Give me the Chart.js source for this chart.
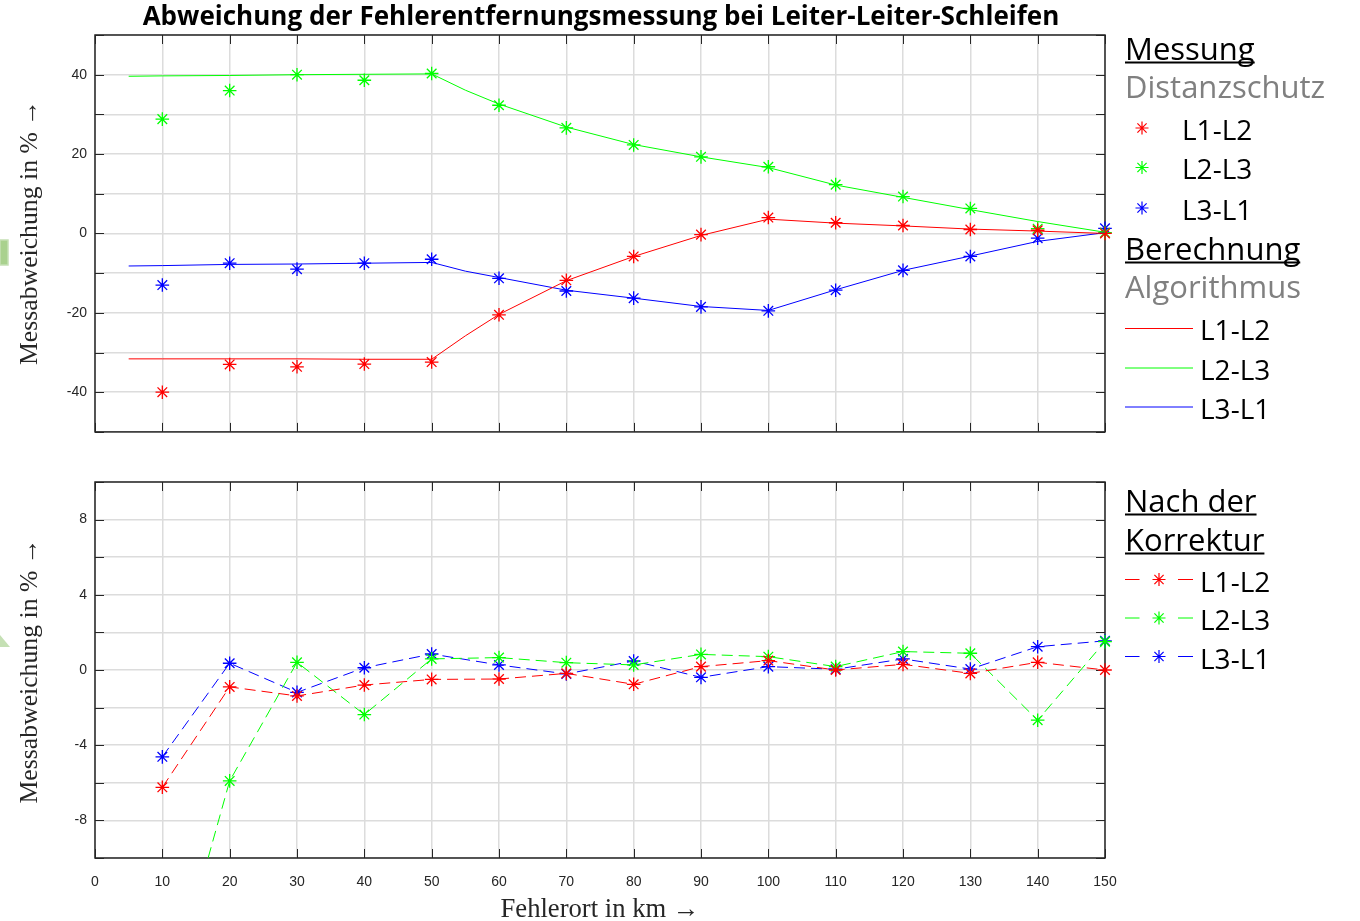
<!DOCTYPE html>
<html>
<head>
<meta charset="utf-8">
<script src="https://cdn.jsdelivr.net/npm/chart.js@4.4.0/dist/chart.umd.min.js"></script>
<style>
  body { margin: 0; background: #fff; width: 1360px; height: 921px; overflow: hidden; position: relative; }
  canvas { position: absolute; left: 0; }
  #topChart { top: 0; }
  #botChart { top: 460px; }
  #ann { position: absolute; left: 0; top: 0; }
</style>
</head>
<body>
<canvas id="topChart" width="1125" height="440" style="width:1125px;height:440px"></canvas>
<canvas id="botChart" width="1125" height="440" style="width:1125px;height:440px"></canvas>

<svg id="ann" width="1360" height="921">
  <!-- stray marks at the left border of the original picture -->
  <rect x="0" y="240" width="8" height="25" fill="#a9d18e" stroke="#c5e0b4" stroke-width="1.5"/>
  <polygon points="0,635 10,647 0,647" fill="#c5e0b4"/>

  <text id="title" x="601" y="25" text-anchor="middle" font-family="Open Sans" font-weight="bold" font-size="24">Abweichung der Fehlerentfernungsmessung bei Leiter-Leiter-Schleifen</text>

  <text id="yTitleTop" transform="translate(37,232.5) rotate(-90)" text-anchor="middle" font-family="Liberation Serif" font-size="22" fill="#262626">Messabweichung in % →</text>
  <text id="yTitleBot" transform="translate(37,671) rotate(-90)" text-anchor="middle" font-family="Liberation Serif" font-size="22" fill="#262626">Messabweichung in % →</text>
  <text id="xTitle" x="600" y="917" text-anchor="middle" font-family="Liberation Serif" font-size="22" fill="#262626">Fehlerort in km →</text>

  <g id="legend"></g>
</svg>

<script>
// ---------- data ----------
const kmMeas = [10, 20, 30, 40, 50, 60, 70, 80, 90, 100, 110, 120, 130, 140, 150];

// Messung Distanzschutz (markers only)
const measL1L2 = [-40, -33, -33.6, -32.9, -32.4, -20.5, -11.8, -5.8, -0.3, 4, 2.7, 2, 1, 0.8, 0];
const measL2L3 = [28.8, 36, 40, 38.6, 40.3, 32.3, 26.6, 22.3, 19.3, 16.8, 12.3, 9.3, 6.3, 1.2, 0.2];
const measL3L1 = [-13, -7.5, -9, -7.5, -6.5, -11.3, -14.5, -16.3, -18.5, -19.5, -14.3, -9.3, -5.8, -1.2, 1.3];

// Berechnung Algorithmus (lines)
const kmCalc = [5, 10, 20, 30, 40, 50, 55, 60, 70, 80, 90, 100, 110, 120, 130, 140, 150];
const calcL1L2 = [-31.6, -31.6, -31.6, -31.6, -31.7, -31.7, -25.8, -20.4, -11.9, -5.8, -0.5, 3.6, 2.6, 1.9, 1.1, 0.6, 0];
const calcL2L3 = [39.6, 39.7, 39.8, 40, 40.1, 40.2, 36.1, 32.6, 26.8, 22.4, 19.3, 16.6, 12.2, 9.1, 6.0, 3.0, 0.3];
const calcL3L1 = [-8.2, -8.1, -7.8, -7.7, -7.5, -7.3, -9.5, -11.1, -14.3, -16.3, -18.4, -19.4, -14.2, -9.3, -5.7, -2.0, 0.2];

// Nach der Korrektur
const corrL1L2 = [-6.24, -0.9, -1.38, -0.8, -0.5, -0.48, -0.18, -0.76, 0.18, 0.5, 0, 0.3, -0.18, 0.41, 0];
const corrL2L3 = [-18.7, -5.9, 0.41, -2.37, 0.59, 0.66, 0.39, 0.27, 0.83, 0.71, 0.18, 0.98, 0.89, -2.67, 1.51];
const corrL3L1 = [-4.62, 0.36, -1.19, 0.12, 0.85, 0.27, -0.21, 0.48, -0.39, 0.18, 0.04, 0.59, 0.05, 1.24, 1.55];

const seriesNames = ["L1-L2", "L2-L3", "L3-L1"];
const seriesColors = ["#ff0000", "#00ff00", "#0000ff"];

// ---------- helpers ----------
const pts = (xs, ys) => xs.map((x, i) => ({ x: x, y: ys[i] }));
const tickFont = { family: "Liberation Sans, Arial, sans-serif", size: 14 };
const gridCol = "#dcdcdc";
const axisCol = "#262626";
const clipBox = { left: 0, top: 0, right: 10, bottom: 0 };

// box + inward tick marks, drawn below the data like in MATLAB
const framePlugin = {
  id: "frame",
  beforeDatasetsDraw(chart) {
    const { ctx, chartArea: a, scales } = chart;
    ctx.save();
    ctx.strokeStyle = axisCol;
    ctx.lineWidth = 1;
    ctx.beginPath();
    scales.x.ticks.forEach(t => {
      const px = Math.round(scales.x.getPixelForValue(t.value)) + 0.5;
      ctx.moveTo(px, a.top); ctx.lineTo(px, a.top + 9);
      ctx.moveTo(px, a.bottom); ctx.lineTo(px, a.bottom - 9);
    });
    scales.y.ticks.forEach(t => {
      const py = Math.round(scales.y.getPixelForValue(t.value)) + 0.5;
      ctx.moveTo(a.left, py); ctx.lineTo(a.left + 9, py);
      ctx.moveTo(a.right, py); ctx.lineTo(a.right - 9, py);
    });
    ctx.stroke();
    ctx.lineWidth = 1.5;
    ctx.strokeRect(a.left, a.top, a.right - a.left, a.bottom - a.top);
    ctx.restore();
  }
};

function baseScales(yMin, yMax, yStep, labelEvery, showX, xHeight) {
  return {
    x: {
      type: "linear", min: 0, max: 150,
      ticks: { stepSize: 10, display: showX, font: tickFont, color: axisCol, padding: 16, maxRotation: 0 },
      grid: { color: gridCol, lineWidth: 1.5, drawTicks: false },
      border: { display: false },
      afterFit: s => { s.height = xHeight; s.paddingLeft = 0; s.paddingRight = 0; }
    },
    y: {
      min: yMin, max: yMax,
      ticks: {
        stepSize: yStep, font: tickFont, color: axisCol, padding: 8,
        callback: v => (v % labelEvery === 0 ? String(v) : "")
      },
      grid: { color: gridCol, lineWidth: 1.5, drawTicks: false },
      border: { display: false },
      afterFit: s => { s.width = 95; s.paddingTop = 0; s.paddingBottom = 0; }
    }
  };
}

const commonOpts = {
  responsive: false,
  animation: false,
  plugins: { legend: { display: false }, tooltip: { enabled: false } }
};

// move the plot area onto the pixel box of the original (canvas coordinates)
function pin(chart, box) {
  for (let k = 0; k < 3; k++) {
    const a = chart.chartArea;
    const p = chart.options.layout.padding;
    p.top += box.top - a.top;
    p.right += a.right - box.right;
    p.bottom += a.bottom - box.bottom;
    chart.update();
  }
}

// ---------- top chart ----------
const measSets = [measL1L2, measL2L3, measL3L1];
const calcSets = [calcL1L2, calcL2L3, calcL3L1];
const topDatasets = [];
calcSets.forEach((ys, i) => topDatasets.push({
  data: pts(kmCalc, ys), borderColor: seriesColors[i], borderWidth: 1,
  pointRadius: 0, fill: false, tension: 0, clip: clipBox
}));
measSets.forEach((ys, i) => topDatasets.push({
  data: pts(kmMeas, ys), showLine: false, borderColor: seriesColors[i],
  pointStyle: "star", pointRadius: 6.8, pointBorderColor: seriesColors[i],
  pointBorderWidth: 1.3, clip: clipBox
}));

const topChart = new Chart(document.getElementById("topChart"), {
  type: "line",
  data: { datasets: topDatasets },
  options: Object.assign({}, commonOpts, {
    layout: { padding: { top: 35, right: 20, left: 0, bottom: 0 } },
    scales: baseScales(-50, 50, 10, 20, false, 8)
  }),
  plugins: [framePlugin]
});
pin(topChart, { top: 35, right: 1105, bottom: 432 });

// ---------- bottom chart ----------
const corrSets = [corrL1L2, corrL2L3, corrL3L1];
const botDatasets = corrSets.map((ys, i) => ({
  data: pts(kmMeas, ys), borderColor: seriesColors[i], borderWidth: 1,
  borderDash: [11, 6], fill: false, tension: 0,
  pointStyle: "star", pointRadius: 6.8, pointBorderColor: seriesColors[i],
  pointBorderWidth: 1.3, clip: clipBox
}));

const botChart = new Chart(document.getElementById("botChart"), {
  type: "line",
  data: { datasets: botDatasets },
  options: Object.assign({}, commonOpts, {
    layout: { padding: { top: 22, right: 20, left: 0, bottom: 0 } },
    scales: baseScales(-10, 10, 2, 4, true, 42)
  }),
  plugins: [framePlugin]
});
pin(botChart, { top: 22, right: 1105, bottom: 398 });

// ---------- texts: fit to the widths ----------
function fitWidth(id, target) {
  const el = document.getElementById(id);
  const size = parseFloat(el.getAttribute("font-size"));
  const w = el.getComputedTextLength();
  if (w > 0) el.setAttribute("font-size", (size * target / w).toFixed(2));
}
fitWidth("title", 917);
fitWidth("yTitleTop", 265);
fitWidth("yTitleBot", 265);
fitWidth("xTitle", 199);

// ---------- legend ----------
const NS = "http://www.w3.org/2000/svg";
const lg = document.getElementById("legend");
function el(tag, attrs, text) {
  const e = document.createElementNS(NS, tag);
  for (const k in attrs) e.setAttribute(k, attrs[k]);
  if (text) e.textContent = text;
  lg.appendChild(e);
  return e;
}
function header(text, y, color, underline) {
  const t = el("text", { x: 1125, y: y, "font-size": 31, fill: color, "font-family": "Open Sans" }, text);
  if (underline) {
    const w = t.getComputedTextLength();
    el("line", { x1: 1125, x2: 1125 + w, y1: y + 2.5, y2: y + 2.5, stroke: "#000", "stroke-width": 2 });
  }
}
function star(cx, cy, r, color) {
  let d = "";
  for (let k = 0; k < 4; k++) {
    const a = k * Math.PI / 4;
    const dx = Math.cos(a) * r, dy = Math.sin(a) * r;
    d += `M${cx - dx},${cy - dy}L${cx + dx},${cy + dy}`;
  }
  el("path", { d: d, stroke: color, "stroke-width": 1.2, fill: "none" });
}
function entry(text, x, y) {
  el("text", { x: x, y: y, "font-size": 28, fill: "#000", "font-family": "Open Sans" }, text);
}

header("Messung", 60, "#000", true);
header("Distanzschutz", 98, "#808080", false);
[139.5, 179, 219.5].forEach((y, i) => {
  star(1142, y - 11.5, 6.5, seriesColors[i]);
  entry(seriesNames[i], 1182, y);
});
header("Berechnung", 260, "#000", true);
header("Algorithmus", 298, "#808080", false);
[340, 379.5, 418.5].forEach((y, i) => {
  el("line", { x1: 1125, x2: 1193, y1: y - 11.5, y2: y - 11.5, stroke: seriesColors[i], "stroke-width": 1 });
  entry(seriesNames[i], 1200, y);
});
header("Nach der", 512, "#000", true);
header("Korrektur", 551, "#000", true);
[591.5, 630, 668.5].forEach((y, i) => {
  const ly = y - 12;
  el("line", { x1: 1125, x2: 1139.5, y1: ly, y2: ly, stroke: seriesColors[i], "stroke-width": 1 });
  el("line", { x1: 1178, x2: 1193, y1: ly, y2: ly, stroke: seriesColors[i], "stroke-width": 1 });
  star(1159, ly, 6.5, seriesColors[i]);
  entry(seriesNames[i], 1200, y);
});
</script>
</body>
</html>
